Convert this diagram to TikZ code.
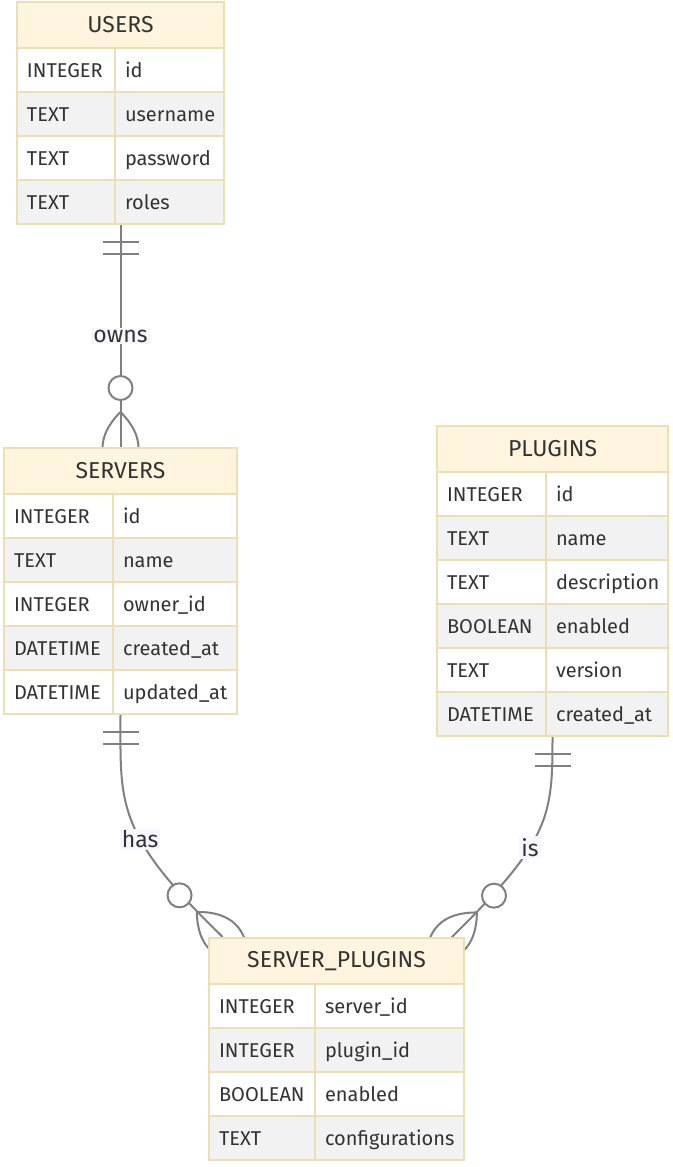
\documentclass[tikz,border=0pt]{standalone}
\usepackage{fontspec}
\setmainfont{Fira Sans}
\usetikzlibrary{calc, positioning, backgrounds}

\definecolor{hdfill}{HTML}{FFF4DD}
\definecolor{tblline}{HTML}{EFDDB4}
\definecolor{rowgray}{HTML}{F2F2F2}
\definecolor{txt}{HTML}{333333}
\definecolor{linegray}{HTML}{808080}
\definecolor{lblbg}{HTML}{F7F7FD}

% one entity: name, left, top, split, right, rows, title, type/field list
\newcommand{\ertable}[8]{%
  \pgfmathsetmacro\tblw{#5-#2}
  \pgfmathsetmacro\tblh{46+44*#6}
  \pgfmathsetmacro\typw{#4-#2-20}
  \pgfmathsetmacro\fldw{#5-#4-20}
  \node[ertbl, minimum width=\tblw pt, minimum height=\tblh pt] (#1) at (#2,#3) {};
  \node[erhead, minimum width=\tblw pt] (#1-hd) at (#2,#3) {#7};
  \foreach \typ/\fld [count=\i] in {#8} {
    \ifodd\i \def\rowfill{white}\else \def\rowfill{rowgray}\fi
    \node[ercell, fill=\rowfill, text width=\typw pt] (#1-t\i) at (#2,#3+2+44*\i) {\typ};
    \node[ercell, fill=\rowfill, text width=\fldw pt] (#1-f\i) at (#4,#3+2+44*\i) {\fld};
  }
}

\tikzset{
  manyend/.pic={
    \draw[rel] (-36,0) .. controls (-12,24) and (12,24) .. (36,0) .. controls (12,-24) and (-12,-24) .. (-36,0);
    \draw[rel, fill=white] (-60,0) circle[radius=12];
  },
  oneend/.pic={
    \draw[rel] (18,-18) -- (18,18) (30,-18) -- (30,18);
  }
}

\begin{document}
\begin{tikzpicture}[x=1pt, y=-1pt,
  ertbl/.style={draw=tblline, line width=2pt, anchor=north west, inner sep=0pt, outer sep=0pt},
  erhead/.style={ertbl, fill=hdfill, minimum height=46pt, text=txt, font=\fontsize{23}{27}\selectfont},
  ercell/.style={ertbl, minimum height=44pt, inner xsep=10pt, align=left, text height=14pt, text depth=0pt, text=txt, font=\fontsize{20}{24}\selectfont},
  rel/.style={draw=linegray, line width=2pt},
  lbl/.style={fill=lblbg, inner sep=2pt, text=txt, font=\fontsize{23}{26}\selectfont}]
  \useasboundingbox (0,0) rectangle (672,1167);

  \ertable{users}{17}{2}{115}{224}{4}{USERS}{INTEGER/id, TEXT/username, TEXT/password, TEXT/roles}
  \ertable{servers}{4}{448}{113}{237}{5}{SERVERS}{INTEGER/id, TEXT/name, INTEGER/owner\_id, DATETIME/created\_at, DATETIME/updated\_at}
  \ertable{plugins}{437}{426}{546}{668}{6}{PLUGINS}{INTEGER/id, TEXT/name, TEXT/description, BOOLEAN/enabled, TEXT/version, DATETIME/created\_at}
  \ertable{srvplug}{209}{938}{315}{464}{4}{SERVER\_PLUGINS}{INTEGER/server\_id, INTEGER/plugin\_id, BOOLEAN/enabled, TEXT/configurations}

  \coordinate (hasend) at (222.7,937);
  \coordinate (isend) at (451.2,937.7);

  \begin{scope}[on background layer]
    \draw[rel] (users.south) -- node[lbl] (owns) {owns} (servers.north);
    \draw[rel] (servers.south) .. controls (120.5,804) and (114.8,832.7) .. node[lbl, pos=0.6] (has) {has} (hasend);
    \draw[rel] (plugins.south) .. controls (552.5,816) and (551,839.7) .. node[lbl, pos=0.6] (is) {is} (isend);

    \pic[rotate=-90] at (users.south) {oneend};
    \pic[rotate=-90] at (servers.north) {manyend};
    \pic[rotate=-90] at (servers.south) {oneend};
    \pic[rotate=-44] at (hasend) {manyend};
    \pic[rotate=-90] at (plugins.south) {oneend};
    \pic[rotate=-135.5] at (isend) {manyend};
  \end{scope}
\end{tikzpicture}
\end{document}
